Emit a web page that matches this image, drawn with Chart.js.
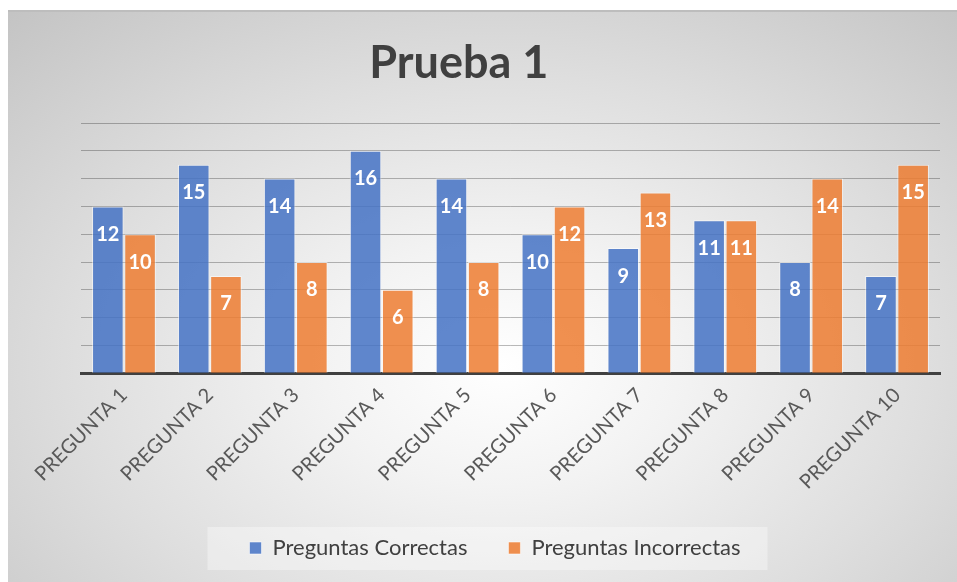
<!DOCTYPE html>
<html>
<head>
<meta charset="utf-8">
<script src="https://cdn.jsdelivr.net/npm/chart.js@4"></script>
<style>
  html, body { margin: 0; padding: 0; background: #fff; }
  #frame {
    position: absolute; left: 8px; top: 10px; width: 949px; height: 572px;
    background: radial-gradient(ellipse 75% 85% at 52% 62%, #ffffff 0%, #f3f3f3 25%, #dedede 60%, #c4c4c4 100%);
    border-top: 2px solid #bdbdbd;
    box-sizing: border-box;
  }
  #myChart { display: block; }
</style>
</head>
<body>
<div id="frame"><canvas id="myChart" width="949" height="570"></canvas></div>
<script>
  // values
  var categories = ['PREGUNTA 1', 'PREGUNTA 2', 'PREGUNTA 3', 'PREGUNTA 4', 'PREGUNTA 5',
                    'PREGUNTA 6', 'PREGUNTA 7', 'PREGUNTA 8', 'PREGUNTA 9', 'PREGUNTA 10'];
  var correctas = [12, 15, 14, 16, 14, 10, 9, 11, 8, 7];
  var incorrectas = [10, 7, 8, 6, 8, 12, 13, 11, 14, 15];
  var chartTitle = 'Prueba 1';
  var seriesNames = ['Preguntas Correctas', 'Preguntas Incorrectas'];

  var ctx = document.getElementById('myChart').getContext('2d');

  // title drawn a bit left of center, like the original
  var titlePlugin = {
    id: 'customTitle',
    afterDraw: function (chart) {
      var c = chart.ctx;
      c.save();
      c.fillStyle = '#404040';
      c.font = 'bold 45px Lato';
      c.textAlign = 'center';
      c.textBaseline = 'middle';
      c.fillText(chartTitle, chart.width * 0.475, 51);
      c.restore();
    }
  };

  // white value labels inside the top of each bar
  var valueLabels = {
    id: 'valueLabels',
    afterDatasetsDraw: function (chart) {
      var c = chart.ctx;
      c.save();
      c.fillStyle = '#ffffff';
      c.font = 'bold 20px Lato';
      c.textAlign = 'center';
      c.textBaseline = 'middle';
      chart.data.datasets.forEach(function (ds, i) {
        chart.getDatasetMeta(i).data.forEach(function (bar, j) {
          c.fillText(ds.data[j], bar.x, bar.y + 28);
        });
      });
      c.restore();
    }
  };

  // pale box behind the legend
  var legendBox = {
    id: 'legendBox',
    beforeDraw: function (chart) {
      var lg = chart.legend;
      if (!lg || !lg.legendHitBoxes.length) return;
      var boxes = lg.legendHitBoxes;
      var first = boxes[0], last = boxes[boxes.length - 1];
      var mid = first.top + first.height / 2;
      var c = chart.ctx;
      c.save();
      c.fillStyle = 'rgba(255,255,255,0.35)';
      c.fillRect(first.left - 42, mid - 21, (last.left + last.width) - first.left + 69, 43);
      c.restore();
    }
  };

  var data = {
    labels: categories,
    datasets: [{
      label: seriesNames[0],
      data: correctas,
      backgroundColor: 'rgba(68, 114, 196, 0.85)',
      borderColor: 'rgba(255, 255, 255, 0.55)',
      borderWidth: 1
    }, {
      label: seriesNames[1],
      data: incorrectas,
      backgroundColor: 'rgba(237, 125, 49, 0.85)',
      borderColor: 'rgba(255, 255, 255, 0.55)',
      borderWidth: 1
    }]
  };

  var options = {
    responsive: false,
    animation: false,
    layout: { padding: { top: 111, left: 42, right: 17, bottom: 13 } },
    categoryPercentage: 0.75,
    barPercentage: 0.98,
    scales: {
      x: {
        grid: { display: false },
        border: { display: true, color: '#404040', width: 3 },
        ticks: {
          color: '#595959',
          font: { family: 'Lato', size: 20 },
          maxRotation: 45,
          minRotation: 45,
          padding: 2
        }
      },
      y: {
        min: 0,
        max: 18,
        ticks: { display: false, stepSize: 2 },
        grid: { color: 'rgba(0,0,0,0.27)', lineWidth: 1, drawTicks: false },
        border: { display: false },
        afterFit: function (scale) { scale.width = 31; }
      }
    },
    plugins: {
      title: { display: false },
      tooltip: { enabled: false },
      legend: {
        position: 'bottom',
        labels: {
          color: '#404040',
          font: { family: 'Lato', size: 22 },
          boxWidth: 12,
          boxHeight: 12,
          padding: 41
        }
      }
    }
  };

  var chart = new Chart(ctx, {
    type: 'bar',
    data: data,
    options: options,
    plugins: [legendBox, titlePlugin, valueLabels]
  });
</script>
</body>
</html>
